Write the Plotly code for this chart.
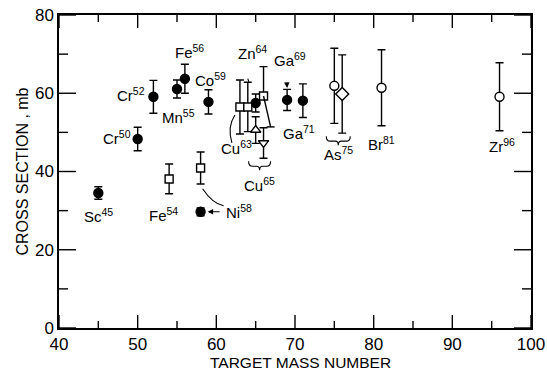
import plotly.graph_objects as go

# ---- data (target mass number A, cross section in mb, +/- error) ----
fc_A = [45, 50, 52, 55, 56, 58, 59, 65, 69, 71]          # filled circles
fc_v = [34.5, 48.3, 59.1, 61.1, 63.7, 29.7, 57.8, 57.5, 58.3, 58.1]
fc_err = [1.6, 3.0, 4.2, 2.3, 3.7, 1.0, 3.1, 2.3, 2.7, 4.3]

sq_A = [54, 58, 63, 64, 66]                               # open squares
sq_v = [38.1, 40.9, 56.5, 56.5, 59.3]
sq_err_up = [3.8, 4.1, 6.9, 6.3, 7.5]
sq_err_dn = [3.8, 4.1, 6.9, 6.3, 0.0]                     # last one drawn slanted
sq_last_low = 51.4

tu_A = [65]; tu_v = [50.6]; tu_err = [3.4]                # open triangle up
td_A = [66]; td_v = [47.3]; td_err = [3.9]                # open triangle down
oc_A = [75, 81, 96]; oc_v = [61.9, 61.4, 59.1]; oc_err = [9.6, 9.7, 8.7]   # open circles
dm_A = [76]; dm_v = [59.8]; dm_err = [10.0]               # open diamond

x_major = [40, 50, 60, 70, 80, 90, 100]
x_minor = [45, 55, 65, 75, 85, 95]
y_major = [0, 20, 40, 60, 80]
y_minor = [10, 30, 50, 70]

X_RANGE = [40, 100]
Y_RANGE = [0, 80]
FONT = "Liberation Sans"
W, H = 547, 370
M = dict(l=59, r=16, t=15, b=42)
px_per_x = (W - M["l"] - M["r"]) / (X_RANGE[1] - X_RANGE[0])
px_per_y = (H - M["t"] - M["b"]) / (Y_RANGE[1] - Y_RANGE[0])

fig = go.Figure()

# ---- inside tick marks on all four sides (axis decoration) ----
tx, ty = [], []
for vals, ln in ((x_major, 13), (x_minor, 7)):
    d = ln / px_per_y
    for v in vals:
        tx += [v, v, None, v, v, None]
        ty += [Y_RANGE[0], Y_RANGE[0] + d, None, Y_RANGE[1], Y_RANGE[1] - d, None]
for vals, ln in ((y_major, 17), (y_minor, 9)):
    d = ln / px_per_x
    for v in vals:
        tx += [X_RANGE[0], X_RANGE[0] + d, None, X_RANGE[1], X_RANGE[1] - d, None]
        ty += [v, v, None, v, v, None]
fig.add_trace(go.Scatter(x=tx, y=ty, mode="lines", line=dict(color="black", width=1.4),
                         connectgaps=False, showlegend=False, hoverinfo="skip"))


def add(A, v, err, symbol, filled, size, err_dn=None):
    fig.add_trace(go.Scatter(
        x=A, y=v, mode="markers",
        marker=dict(symbol=symbol, size=size,
                    color="black" if filled else "white",
                    line=dict(color="black", width=1.4)),
        error_y=dict(type="data", symmetric=err_dn is None, array=err,
                     arrayminus=err_dn, visible=True, color="black",
                     thickness=1.4, width=4),
        showlegend=False, hoverinfo="x+y"))


add(fc_A, fc_v, fc_err, "circle", True, 9)
add(sq_A, sq_v, sq_err_up, "square", False, 8, sq_err_dn)
add(tu_A, tu_v, tu_err, "triangle-up", False, 9)
add(td_A, td_v, td_err, "triangle-down", False, 9)
add(oc_A, oc_v, oc_err, "circle", False, 9)
add(dm_A, dm_v, dm_err, "diamond", False, 10)

anns = []


def label(text, x, y, dx, dy, xanchor="center"):
    anns.append(dict(x=x, y=y, text=text, showarrow=False, xshift=dx, yshift=dy,
                     xanchor=xanchor, yanchor="middle",
                     font=dict(family=FONT, size=15, color="black")))


def sup(el, a):
    return f"{el}<sup>{a}</sup>"


label(sup("Sc", 45), fc_A[0], fc_v[0], 0, -22)
label(sup("Cr", 50), fc_A[1], fc_v[1], -5, 2, "right")
label(sup("Cr", 52), fc_A[2], fc_v[2], -6, 2, "right")
label(sup("Mn", 55), fc_A[3], fc_v[3], 1, -28)
label(sup("Fe", 56), fc_A[4], fc_v[4], 5, 27)
label(sup("Ni", 58), fc_A[5], fc_v[5], 23, 0, "left")
label(sup("Co", 59), fc_A[6], fc_v[6], 2, 22)
label(sup("Fe", 54), sq_A[0], sq_v[0], -6, -36)
label(sup("Cu", 63), sq_A[2], sq_v[2], -3, -41)
label(sup("Zn", 64), sq_A[3], sq_v[3], 5, 54)
label(sup("Ga", 69), fc_A[8], fc_v[8], 3, 40)
label(sup("Ga", 71), fc_A[9], fc_v[9], -4, -32)
cu65_x = (tu_A[0] + td_A[0]) / 2
cu65_y = td_v[0] - td_err[0]
label(sup("Cu", 65), cu65_x, cu65_y, 0, -26)
as75_x = (oc_A[0] + dm_A[0]) / 2
as75_y = min(oc_v[0] - oc_err[0], dm_v[0] - dm_err[0])
label(sup("As", 75), as75_x, as75_y, 0, -20)
label(sup("Br", 81), oc_A[1], oc_v[1] - oc_err[1], 0, -18)
label(sup("Zr", 96), oc_A[2], oc_v[2] - oc_err[2], 2, -15)

# axis titles
anns.append(dict(xref="paper", yref="paper", x=0.5, y=0, xshift=5, yshift=-34,
                 text="TARGET MASS NUMBER", showarrow=False, yanchor="middle",
                 font=dict(family=FONT, size=15.5, color="black")))
anns.append(dict(xref="paper", yref="paper", x=0, y=0.5, xshift=-37, textangle=-90,
                 text="CROSS SECTION , mb", showarrow=False, xanchor="center",
                 font=dict(family=FONT, size=16, color="black")))


def arrow(x, y, tx_, ty_, hx, hy, head=0):
    anns.append(dict(x=x, y=y, xshift=hx, yshift=hy, ax=tx_ - hx, ay=-(ty_ - hy),
                     text=" ", showarrow=True, arrowhead=head, arrowsize=1,
                     arrowwidth=1.1, arrowcolor="black"))


arrow(fc_A[3], fc_v[3], -6, -17, -5, -10)            # Mn55
arrow(sq_A[3], sq_v[3], -3, 38, 1, 25)               # Zn64
arrow(fc_A[8], fc_v[8], -1, 27, 0, 12, head=2)       # Ga69
arrow(fc_A[9], fc_v[9], -6, -22, -5, -17)            # Ga71
arrow(fc_A[5], fc_v[5], 22, 0, 7, 0, head=2)         # Ni58 -> filled point
arrow(fc_A[5], fc_v[5], 4, 21, 1, 24, head=2)        # Ni58 -> square (head)

shapes = []


def pixpath(x, y, path, width=1.1):
    shapes.append(dict(type="path", xref="x", yref="y", xsizemode="pixel",
                       ysizemode="pixel", xanchor=x, yanchor=y, path=path,
                       line=dict(color="black", width=width)))


pixpath(fc_A[5], fc_v[5], "M 23,6 Q 12,8 2,23")          # Ni58 curve
pixpath(sq_A[2], sq_v[2], "M -8,-36 Q -13,-20 -5,-8")     # Cu63 curve

# slanted lower error bar of the A=66 square
shapes.append(dict(type="line", xref="x", yref="y", x0=sq_A[4], y0=sq_v[4],
                   x1=sq_A[4] + 0.9, y1=sq_last_low,
                   line=dict(color="black", width=1.4)))
pixpath(sq_A[4] + 0.9, sq_last_low, "M -4,0 L 4,0", 1.4)

brace = ("M -{w},-3 Q -{w},-8 -{w2},-8 L -3,-8 Q 0,-8 0,-12 "
         "Q 0,-8 3,-8 L {w2},-8 Q {w},-8 {w},-3")
pixpath(cu65_x, cu65_y, brace.format(w=11, w2=7))
pixpath(as75_x, as75_y, brace.format(w=12, w2=8))

axis_common = dict(showline=True, linecolor="black", linewidth=1.6,
                   mirror=True, ticks="", showgrid=False, zeroline=False,
                   tickfont=dict(family=FONT, size=17, color="black"))

fig.update_xaxes(range=X_RANGE, tickvals=x_major, **axis_common)
fig.update_yaxes(range=Y_RANGE, tickvals=y_major, **axis_common)

fig.update_layout(width=W, height=H,
                  margin=dict(**M, autoexpand=False),
                  paper_bgcolor="white", plot_bgcolor="white",
                  annotations=anns, shapes=shapes)

fig.write_html("out.html", post_script="document.body.style.margin='0';",
               config={"displayModeBar": False, "staticPlot": True})
